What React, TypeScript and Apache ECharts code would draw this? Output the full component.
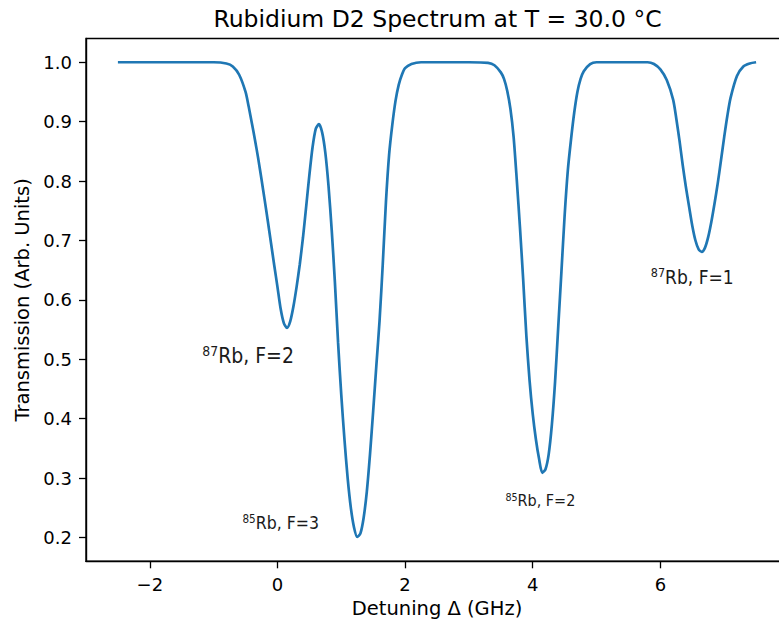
import { useEffect, useRef } from "react";
import * as echarts from "echarts";

const detuning = [
  -2.5, -2.0, -1.5, -1.0, -0.8, -0.7, -0.6, -0.5, -0.45, -0.4, -0.35, -0.3, -0.25, -0.2, -0.15, -0.1, -0.05,
  0.0, 0.05, 0.1, 0.15, 0.2, 0.25, 0.3, 0.35, 0.4, 0.45, 0.5, 0.55, 0.6, 0.65, 0.7, 0.75, 0.8, 0.85, 0.9, 0.95,
  1.0, 1.05, 1.1, 1.15, 1.2, 1.25, 1.3, 1.35, 1.4, 1.45, 1.5, 1.55, 1.6, 1.65, 1.7, 1.75, 1.8, 1.85, 1.9, 1.95,
  2.0, 2.1, 2.25, 2.5, 3.0, 3.3, 3.4, 3.5, 3.55, 3.6, 3.65, 3.7, 3.75, 3.8, 3.85, 3.9, 3.95,
  4.0, 4.05, 4.1, 4.15, 4.2, 4.25, 4.3, 4.35, 4.4, 4.45, 4.5, 4.55, 4.6, 4.65, 4.7, 4.75, 4.8, 4.9,
  5.0, 5.5, 5.8, 5.9, 6.0, 6.1, 6.2, 6.25, 6.3, 6.35, 6.4, 6.45, 6.5, 6.55, 6.6, 6.65, 6.7, 6.75, 6.8, 6.85,
  6.9, 6.95, 7.0, 7.05, 7.1, 7.2, 7.3, 7.4, 7.5,
];

const transmission = [
  1.0, 1.0, 1.0, 1.0, 0.998, 0.993, 0.979, 0.95, 0.925, 0.897, 0.868, 0.837, 0.803, 0.768, 0.732, 0.695, 0.658,
  0.622, 0.585, 0.561, 0.553, 0.564, 0.589, 0.622, 0.66, 0.705, 0.757, 0.81, 0.857, 0.888, 0.896, 0.882, 0.848, 0.792, 0.718, 0.63, 0.528,
  0.44, 0.365, 0.3, 0.25, 0.217, 0.201, 0.207, 0.233, 0.277, 0.34, 0.413, 0.49, 0.565, 0.66, 0.765, 0.845, 0.895, 0.935, 0.962, 0.979,
  0.99, 0.997, 1.0, 1.0, 1.0, 0.999, 0.995, 0.983, 0.972, 0.952, 0.922, 0.875, 0.802, 0.722, 0.635, 0.54, 0.465,
  0.408, 0.365, 0.332, 0.309, 0.315, 0.34, 0.39, 0.462, 0.555, 0.648, 0.742, 0.818, 0.87, 0.915, 0.95, 0.972, 0.985, 0.997,
  1.0, 1.0, 1.0, 0.997, 0.988, 0.97, 0.937, 0.905, 0.868, 0.827, 0.79, 0.757, 0.725, 0.7, 0.685, 0.681, 0.688, 0.706, 0.732, 0.763,
  0.797, 0.835, 0.874, 0.91, 0.94, 0.977, 0.993, 0.998, 1.0,
];

const xTicks = [-2, 0, 2, 4, 6];
const yTicks = [0.2, 0.3, 0.4, 0.5, 0.6, 0.7, 0.8, 0.9, 1.0];

const labelIsotope = ["87", "85", "85", "87"];
const labelText = ["Rb, F=2", "Rb, F=3", "Rb, F=2", "Rb, F=1"];
const labelX = [-0.46, 0.05, 4.12, 6.5];
const labelY = [0.506, 0.224, 0.262, 0.639];
const labelSizes = [21, 17.5, 16, 19];

const FONT = "'DejaVu Sans', sans-serif";
const COND = "'DejaVu Sans Condensed', 'Liberation Sans Narrow', 'DejaVu Sans', sans-serif";

export default function App() {
  const ref = useRef<HTMLDivElement>(null);
  useEffect(() => {
    if (!ref.current) return;
    const chart = echarts.init(ref.current, null, { renderer: "svg" });
    const lineData = detuning.map((x, i) => [x, transmission[i]]);
    const marks = labelX.map((x, i) => {
      const fs = labelSizes[i];
      const sfs = Math.round(fs * 0.66 * 10) / 10;
      return {
        coord: [x, labelY[i]],
        symbol: "circle",
        symbolSize: 0,
        itemStyle: { color: "transparent" },
        label: {
          show: true,
          position: "inside",
          formatter: `{sup|${labelIsotope[i]}}{main|${labelText[i]}}`,
          rich: {
            sup: {
              fontFamily: COND,
              fontSize: sfs,
              color: "#1a1a1a",
              verticalAlign: "top",
              lineHeight: sfs,
            },
            main: {
              fontFamily: COND,
              fontSize: fs,
              color: "#1a1a1a",
              lineHeight: fs * 1.15,
            },
          },
        },
      };
    });
    chart.setOption({
      animation: false,
      backgroundColor: "#ffffff",
      graphic: [
        {
          type: "text",
          x: 437.5,
          y: 19,
          style: {
            text: "Rubidium D2 Spectrum at T = 30.0 °C",
            fontFamily: FONT,
            fontSize: 23.5,
            fill: "#000",
            align: "center",
            verticalAlign: "middle",
          },
        },
      ],
      grid: {
        left: 86,
        right: 0,
        top: 38.5,
        bottom: 64.7,
        show: true,
        borderColor: "#000",
        borderWidth: 1.4,
        backgroundColor: "transparent",
      },
      xAxis: {
        type: "value",
        min: -3,
        max: 8,
        name: "Detuning Δ (GHz)",
        nameLocation: "middle",
        nameGap: 37,
        nameTextStyle: { fontFamily: FONT, fontSize: 19.5, color: "#000" },
        axisLine: { show: true, onZero: false, lineStyle: { color: "#000", width: 1.4 } },
        axisTick: { show: true, length: 7, customValues: xTicks, lineStyle: { color: "#000", width: 1.3 } },
        axisLabel: {
          customValues: xTicks,
          margin: 14,
          fontFamily: FONT,
          fontSize: 18,
          color: "#000",
          formatter: (v: number) => (v < 0 ? "\u2212" + Math.abs(v) : String(v)),
        },
        splitLine: { show: false },
      },
      yAxis: {
        type: "value",
        min: 0.16,
        max: 1.04,
        name: "Transmission (Arb. Units)",
        nameLocation: "middle",
        nameGap: 54,
        nameTextStyle: { fontFamily: FONT, fontSize: 19.5, color: "#000" },
        axisLine: { show: true, onZero: false, lineStyle: { color: "#000", width: 1.4 } },
        axisTick: { show: true, length: 7, customValues: yTicks, lineStyle: { color: "#000", width: 1.3 } },
        axisLabel: {
          customValues: yTicks,
          margin: 14,
          fontFamily: FONT,
          fontSize: 18,
          color: "#000",
          formatter: (v: number) => v.toFixed(1),
        },
        splitLine: { show: false },
      },
      series: [
        {
          type: "line",
          data: lineData,
          showSymbol: false,
          symbol: "none",
          smooth: 0.25,
          lineStyle: { color: "#1f77b4", width: 2.7 },
          itemStyle: { color: "#1f77b4" },
          markPoint: {
            silent: true,
            data: marks,
          },
        },
      ],
    });
    return () => chart.dispose();
  }, []);
  return (
    <div style={{ position: "fixed", left: 0, top: 0, width: 779, height: 626, overflow: "hidden", background: "#fff" }}>
      <div ref={ref} style={{ width: 788, height: 626 }} />
    </div>
  );
}
